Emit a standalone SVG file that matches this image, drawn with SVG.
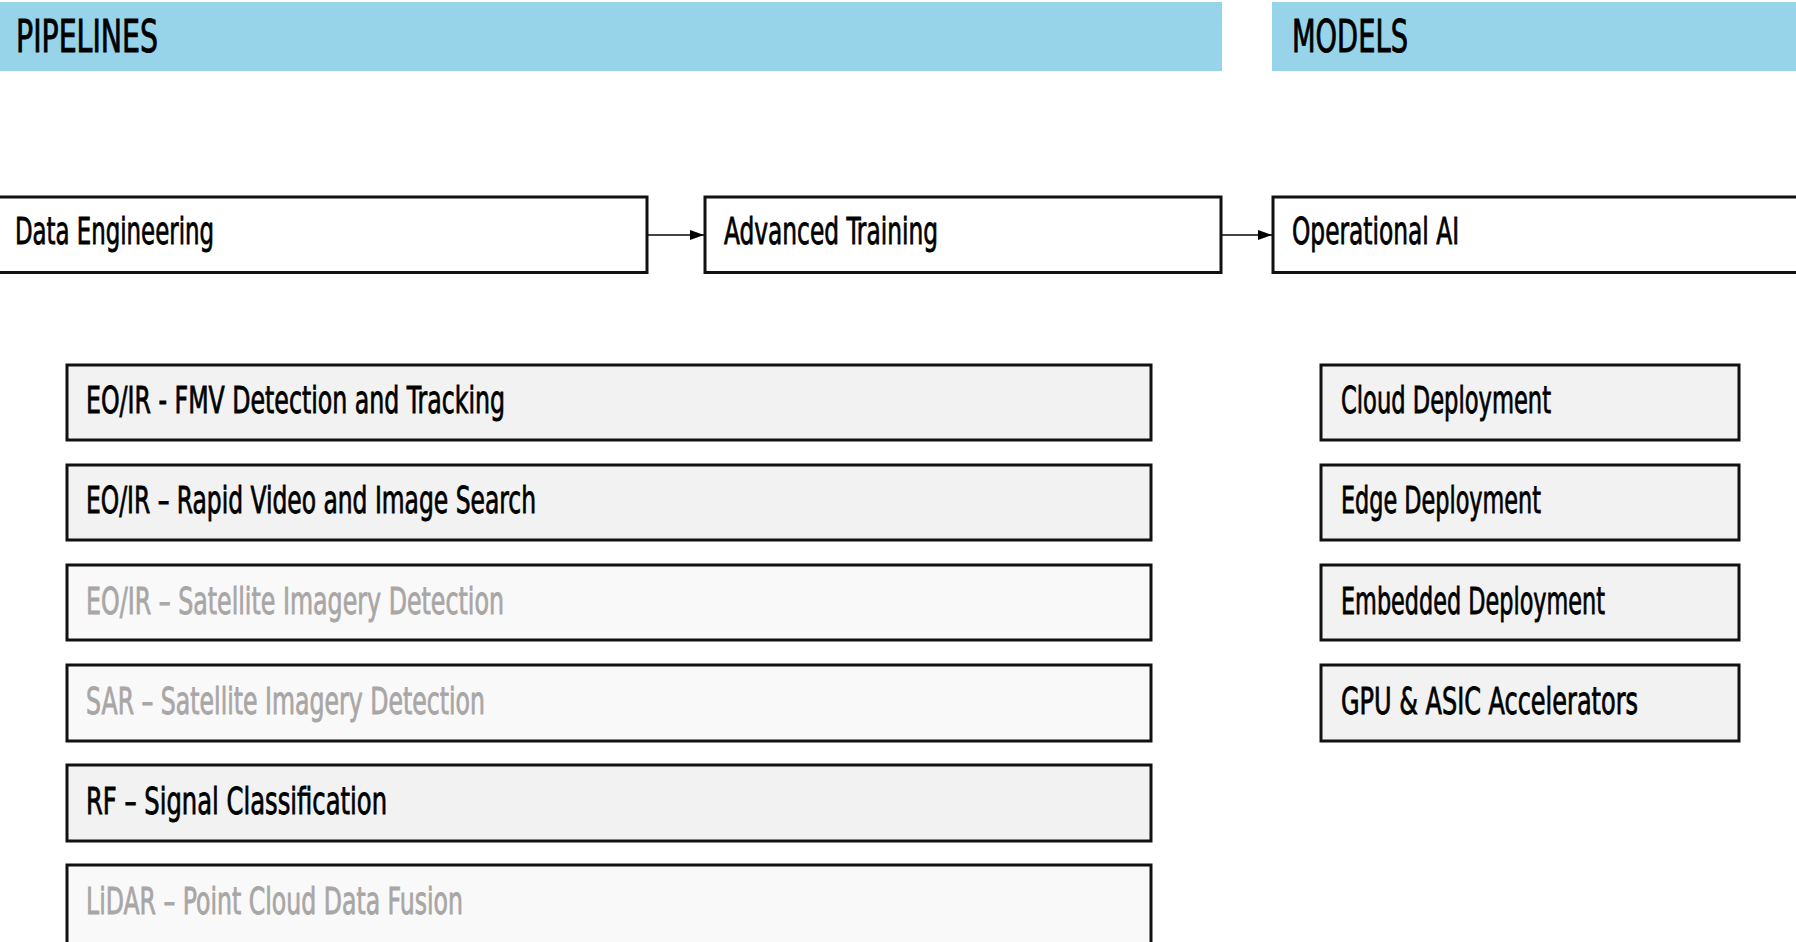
<svg xmlns="http://www.w3.org/2000/svg" width="1796" height="942" viewBox="0 0 1796 942">
<style>
  text { font-family: "Liberation Sans Narrow", "DejaVu Sans Condensed", "Liberation Sans", sans-serif; }
  .band { fill: #97d4e9; }
  .hdr { font-size: 44px; fill: #000; stroke: #000; stroke-width: 0.9; }
  .stage { fill: #ffffff; stroke: #111; stroke-width: 3; }
  .item { fill: #f2f2f2; stroke: #111; stroke-width: 3; }
  .item-dim { fill: #f9f9f9; stroke: #111; stroke-width: 3; }
  .lbl { font-size: 38px; fill: #000; stroke: #000; stroke-width: 0.8; }
  .lbl-dim { font-size: 38px; fill: #a9a6a6; stroke: #a9a6a6; stroke-width: 0.8; }
  .conn { stroke: #444; stroke-width: 2; fill: none; }
</style>
<defs>
  <marker id="arrow" viewBox="0 0 14 10" refX="14" refY="5" markerWidth="14" markerHeight="10" orient="auto" markerUnits="userSpaceOnUse">
    <path d="M0,0 L14,5 L0,10 Z" fill="#000"/>
  </marker>
</defs>
<rect width="1796" height="942" fill="#ffffff"/>

<g id="header-pipelines">
  <rect class="band" x="0" y="2" width="1222" height="69"/>
  <text class="hdr" x="16" y="52" textLength="142" lengthAdjust="spacingAndGlyphs">PIPELINES</text>
</g>
<g id="header-models">
  <rect class="band" x="1272" y="2" width="530" height="69"/>
  <text class="hdr" x="1292" y="52" textLength="116" lengthAdjust="spacingAndGlyphs">MODELS</text>
</g>

<g id="connectors">
  <line class="conn" x1="648" y1="235" x2="704" y2="235" marker-end="url(#arrow)"/>
  <line class="conn" x1="1222" y1="235" x2="1272" y2="235" marker-end="url(#arrow)"/>
</g>

<g id="stage-data-engineering">
  <rect class="stage" x="-10" y="197" width="657" height="75.5"/>
  <text class="lbl" x="15" y="244" textLength="199" lengthAdjust="spacingAndGlyphs">Data Engineering</text>
</g>
<g id="stage-advanced-training">
  <rect class="stage" x="705" y="197" width="516" height="75.5"/>
  <text class="lbl" x="724" y="244" textLength="214" lengthAdjust="spacingAndGlyphs">Advanced Training</text>
</g>
<g id="stage-operational-ai">
  <rect class="stage" x="1273" y="197" width="540" height="75.5"/>
  <text class="lbl" x="1292" y="244" textLength="167" lengthAdjust="spacingAndGlyphs">Operational AI</text>
</g>

<g id="pipeline-fmv">
  <rect class="item" x="67" y="365" width="1084" height="75"/>
  <text class="lbl" x="86" y="413" textLength="419" lengthAdjust="spacingAndGlyphs">EO/IR - FMV Detection and Tracking</text>
</g>
<g id="pipeline-rapid-search">
  <rect class="item" x="67" y="465" width="1084" height="75"/>
  <text class="lbl" x="86" y="513" textLength="450" lengthAdjust="spacingAndGlyphs">EO/IR – Rapid Video and Image Search</text>
</g>
<g id="pipeline-eoir-satellite">
  <rect class="item-dim" x="67" y="565" width="1084" height="75"/>
  <text class="lbl-dim" x="86" y="614" textLength="418" lengthAdjust="spacingAndGlyphs">EO/IR – Satellite Imagery Detection</text>
</g>
<g id="pipeline-sar-satellite">
  <rect class="item-dim" x="67" y="665" width="1084" height="76"/>
  <text class="lbl-dim" x="86" y="714" textLength="399" lengthAdjust="spacingAndGlyphs">SAR – Satellite Imagery Detection</text>
</g>
<g id="pipeline-rf">
  <rect class="item" x="67" y="765" width="1084" height="76"/>
  <text class="lbl" x="86" y="814" textLength="301" lengthAdjust="spacingAndGlyphs">RF – Signal Classification</text>
</g>
<g id="pipeline-lidar">
  <rect class="item-dim" x="67" y="865" width="1084" height="90"/>
  <text class="lbl-dim" x="86" y="914" textLength="377" lengthAdjust="spacingAndGlyphs">LiDAR – Point Cloud Data Fusion</text>
</g>

<g id="model-cloud">
  <rect class="item" x="1321" y="365" width="418" height="75"/>
  <text class="lbl" x="1341" y="413" textLength="210" lengthAdjust="spacingAndGlyphs">Cloud Deployment</text>
</g>
<g id="model-edge">
  <rect class="item" x="1321" y="465" width="418" height="75"/>
  <text class="lbl" x="1341" y="513" textLength="200" lengthAdjust="spacingAndGlyphs">Edge Deployment</text>
</g>
<g id="model-embedded">
  <rect class="item" x="1321" y="565" width="418" height="75"/>
  <text class="lbl" x="1341" y="614" textLength="264" lengthAdjust="spacingAndGlyphs">Embedded Deployment</text>
</g>
<g id="model-accelerators">
  <rect class="item" x="1321" y="665" width="418" height="76"/>
  <text class="lbl" x="1341" y="714" textLength="297" lengthAdjust="spacingAndGlyphs">GPU &amp; ASIC Accelerators</text>
</g>
</svg>
